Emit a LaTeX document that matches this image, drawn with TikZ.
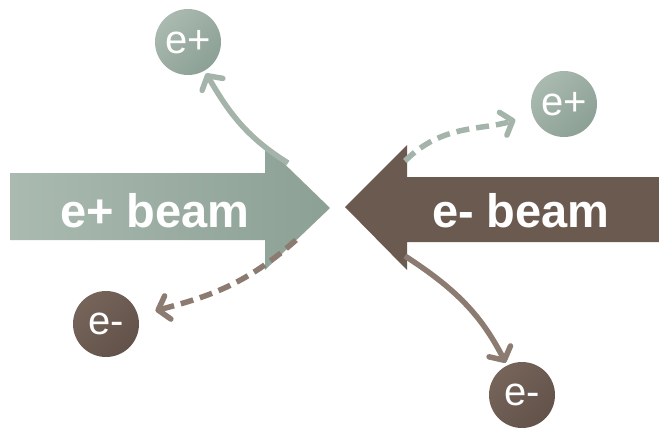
\documentclass[tikz,border=0pt]{standalone}
\usepackage{fontspec}
\setmainfont{Liberation Sans}
\usetikzlibrary{arrows.meta}
\definecolor{gLight}{RGB}{170,186,176}
\definecolor{gDark}{RGB}{140,160,149}
\definecolor{gLine}{RGB}{165,180,171}
\definecolor{bBeam}{RGB}{107,90,80}
\definecolor{bDark}{RGB}{98,82,73}
\definecolor{bLight}{RGB}{118,100,90}
\definecolor{bLine}{RGB}{140,123,112}
\tikzset{
  beamtext/.style={text=white, font=\fontsize{47}{47}\selectfont\bfseries, anchor=base, inner sep=0pt},
  pcircle/.style={circle, minimum size=66pt, inner sep=0pt, text=white, font=\fontsize{40}{40}\selectfont,
     shading=axis, top color=gLight, bottom color=gDark, shading angle=45},
  ecircle/.style={circle, minimum size=66pt, inner sep=0pt, text=white, font=\fontsize{40}{40}\selectfont,
     shading=axis, top color=bLight, bottom color=bDark, shading angle=45},
  conn/.style={line width=5.5pt, -{Straight Barb[length=10pt,width=24pt,round]}},
  dashconn/.style={conn, dash pattern=on 13pt off 7pt},
}
\begin{document}
\begin{tikzpicture}[x=1pt,y=-1pt]
\useasboundingbox (0,0) rectangle (659,429);
% beams
\shade[left color=gLight, right color=gDark]
  (10,173) -- (265,173) -- (265,145) -- (330,208) -- (265,270) -- (265,240) -- (10,240) -- cycle;
\fill[bBeam]
  (659,177) -- (407,177) -- (407,145) -- (345,207) -- (407,270) -- (407,242) -- (659,242) -- cycle;
\node[beamtext] (tp) at (155,227) {e+ beam};
\node[beamtext] (tm) at (521,227) {e- beam};
% particles
\node[pcircle] (p1) at (188,42) {e+};
\node[pcircle] (p2) at (564,104) {e+};
\node[ecircle] (m1) at (106,324) {e-};
\node[ecircle] (m2) at (522,395) {e-};
% start points
\coordinate (s1) at (288,163);
\coordinate (s2) at (405,161);
\coordinate (s3) at (296,240);
\coordinate (s4) at (405,256);
% connectors
\draw[conn, gLine, shorten >=3pt] (s1) to[out=148, in=-60] (p1);
\draw[dashconn, gLine, shorten >=18pt] (s2) to[out=45, in=198] (p2);
\draw[dashconn, bLine, shorten >=18pt] (s3) to[out=222, in=15] (m1);
\draw[conn, bLine, shorten >=3pt] (s4) to[out=-33, in=117] (m2);
\end{tikzpicture}
\end{document}
